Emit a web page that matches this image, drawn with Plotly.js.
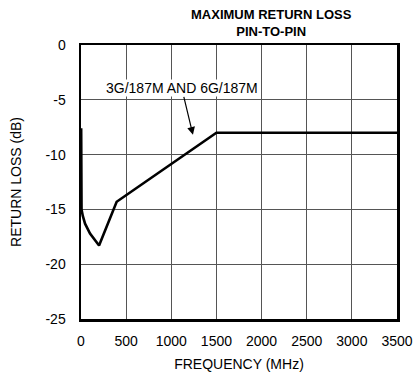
<!DOCTYPE html>
<html><head><meta charset="utf-8">
<script src="https://cdn.plot.ly/plotly-3.0.1.min.js"></script>
<style>html,body{margin:0;padding:0;background:#fff}#chart{width:419px;height:375px}</style>
</head><body><div id="chart"></div>
<script>
const freqMHz = [2, 6, 20, 45, 100, 200, 395, 1500, 3500];
const returnLossDb = [-7.6, -15.0, -15.6, -16.3, -17.2, -18.3, -14.3, -8.0, -8.0];
const xTicks = [0, 500, 1000, 1500, 2000, 2500, 3000, 3500];
const yTicks = [0, -5, -10, -15, -20, -25];
const titleText = '<b>MAXIMUM RETURN LOSS<br>PIN-TO-PIN</b>';
const labelText = '3G/187M AND 6G/187M';
const labelPos = {x: 1118, y: -3.9};
const arrowTail = {x: 1135, y: -4.6};
const arrowTip = {x: 1240, y: -8.2};

const F = '"Liberation Sans Narrow", "Liberation Sans", Arial, sans-serif';
const data = [{
  x: freqMHz, y: returnLossDb, type: 'scatter', mode: 'lines',
  line: {color: '#000', width: 2.6}, hoverinfo: 'skip', cliponaxis: false
}];
const layout = {
  width: 419, height: 375,
  margin: {l: 81, r: 22, t: 45, b: 56},
  paper_bgcolor: '#fff', plot_bgcolor: '#fff',
  showlegend: false,
  font: {family: F, size: 13, color: '#000'},
  xaxis: {range: [0, 3500], tickvals: xTicks, ticktext: xTicks.map(String), showgrid: true, gridcolor: '#555', gridwidth: 1,
    zeroline: false, showline: true, linecolor: '#000', linewidth: 2.5, mirror: true, ticks: '', ticklen: 0,
    ticklabelstandoff: 8,
    tickfont: {family: F, size: 14}, title: {text: 'FREQUENCY (MHz)', font: {family: F, size: 14}, standoff: 11}},
  yaxis: {range: [-25, 0], tickvals: yTicks, ticktext: yTicks.map(String), showgrid: true, gridcolor: '#555', gridwidth: 1,
    zeroline: false, showline: true, linecolor: '#000', linewidth: 2.5, mirror: true, ticks: '', ticklen: 0,
    ticklabelstandoff: 10,
    tickfont: {family: F, size: 14}, title: {text: 'RETURN LOSS (dB)', font: {family: F, size: 14}, standoff: 21}},
  annotations: [
    {x: 0.603, y: 1.08, xref: 'paper', yref: 'paper', text: titleText, showarrow: false,
      font: {family: F, size: 13, color: '#000'}, xanchor: 'center', yanchor: 'middle'},
    {x: labelPos.x, y: labelPos.y, xref: 'x', yref: 'y', text: labelText, showarrow: false,
      font: {family: F, size: 14, color: '#000'}, bgcolor: '#fff', borderpad: 0, xanchor: 'center', yanchor: 'middle'},
    {x: arrowTip.x, y: arrowTip.y, ax: arrowTail.x, ay: arrowTail.y, axref: 'x', ayref: 'y', xref: 'x', yref: 'y',
      text: '', showarrow: true, arrowhead: 2, arrowsize: 1.3, arrowwidth: 1.2, arrowcolor: '#000'}
  ]
};
Plotly.newPlot('chart', data, layout, {staticPlot: true, displayModeBar: false});
</script></body></html>
